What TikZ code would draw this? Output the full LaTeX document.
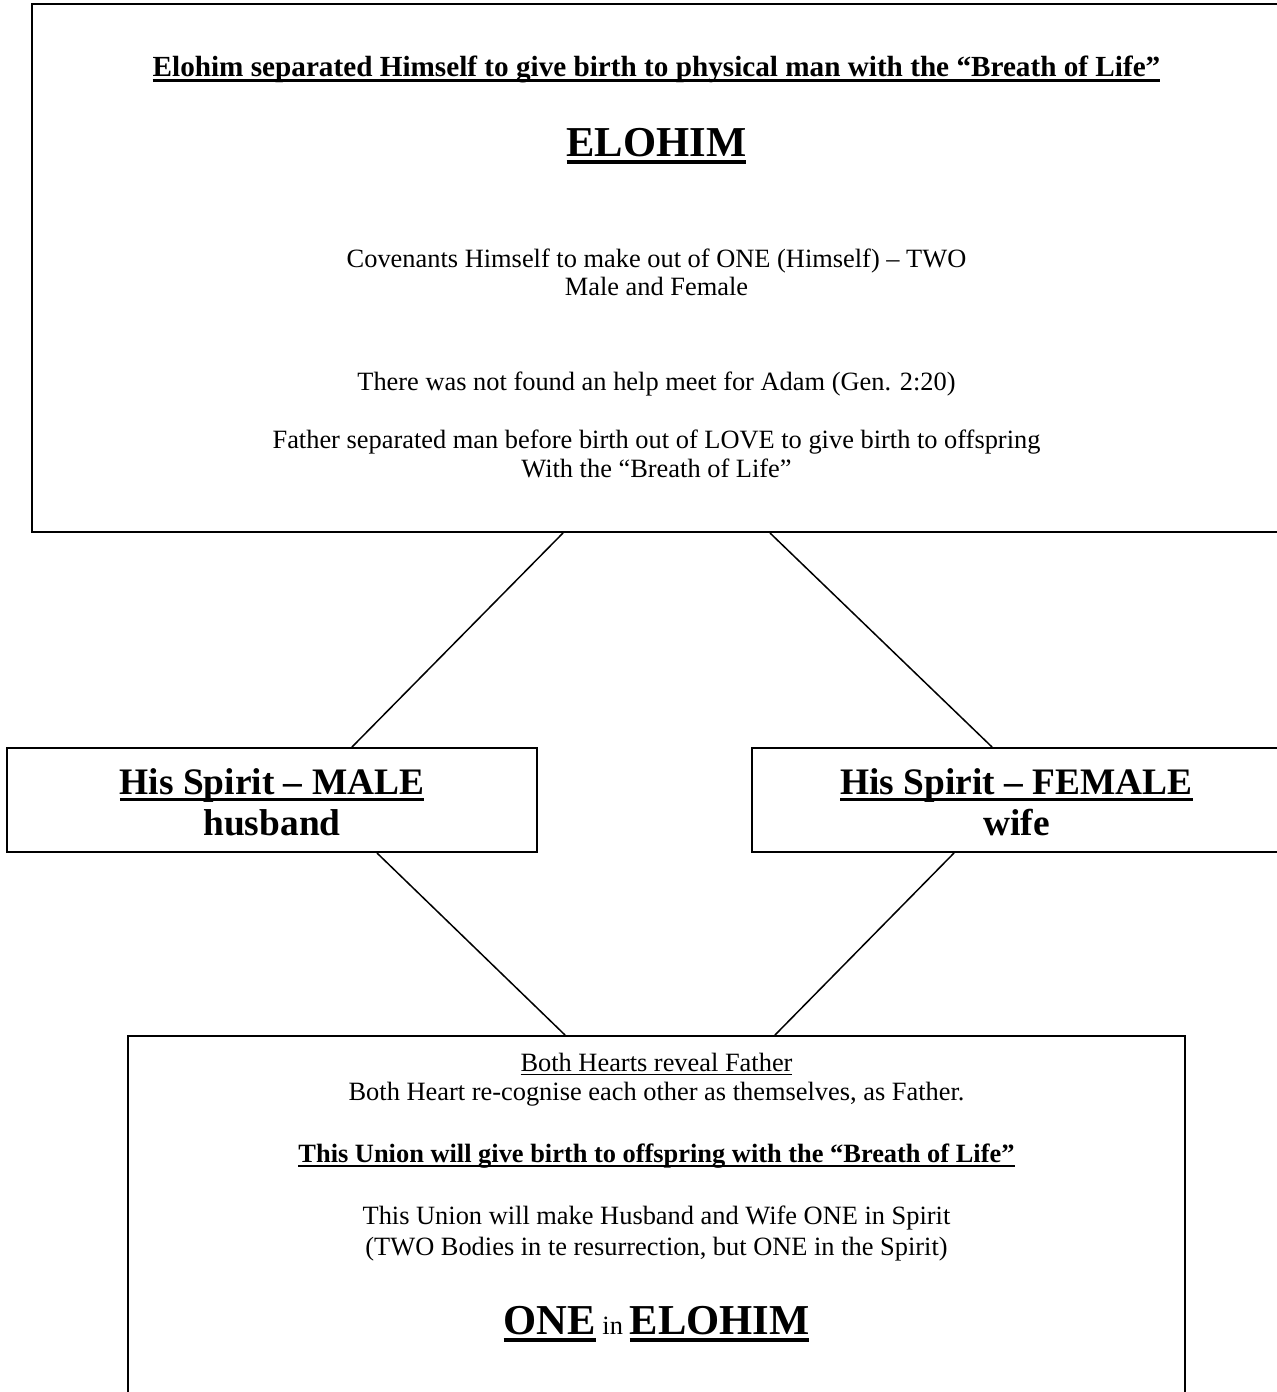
\documentclass[tikz,border=0pt]{standalone}
\usepackage{fontspec}
\setmainfont{Liberation Serif}
\newsavebox{\ulbox}
% underline that cuts through descenders, as a word processor draws it
\newcommand{\ulb}[1]{\sbox{\ulbox}{#1}\rlap{\rule[-0.19em]{\wd\ulbox}{0.09em}}\usebox{\ulbox}}
\newcommand{\uln}[1]{\sbox{\ulbox}{#1}\rlap{\rule[-0.16em]{\wd\ulbox}{0.06em}}\usebox{\ulbox}}
\tikzstyle{frame} = [rectangle, draw=black, line width=1pt]
\tikzstyle{link} = [line width=0.75pt]
\tikzstyle{body} = [anchor=base, inner sep=0pt, font=\fontsize{13.2}{15}\selectfont]
\tikzstyle{head} = [anchor=base, inner sep=0pt, font=\fontsize{14.6}{16}\selectfont\bfseries]
\tikzstyle{spirit} = [anchor=base, inner sep=0pt, font=\fontsize{18.7}{21}\selectfont\bfseries]
\tikzstyle{title} = [anchor=base, inner sep=0pt, font=\fontsize{21.3}{24}\selectfont\bfseries]

\begin{document}
\begin{tikzpicture}[x=0.5pt, y=-0.5pt]
            \useasboundingbox (0,0) rectangle (1276,1392);
            % boxes
            \node[frame, minimum width=634pt, minimum height=264pt] (elohim) at (666,268) {};
            \node[frame, minimum width=265pt, minimum height=52pt] (male) at (272,800) {};
            \node[frame, minimum width=274pt, minimum height=52pt] (female) at (1026,800) {};
            \node[frame, minimum width=528.5pt, minimum height=192pt] (union) at (656.5,1228) {};
            % top box text
            \node[head] (sep) at (656.5,76) {\ulb{Elohim separated Himself to give birth to physical man with the “Breath of Life”}};
            \node[title] (name) at (656.5,156) {\ulb{ELOHIM}};
            \node[body] (cov1) at (656.5,267) {Covenants Himself to make out of ONE (Himself) – TWO};
            \node[body] (cov2) at (656.5,295) {Male and Female};
            \node[body] (help) at (656.5,390) {There was not found an help meet for Adam (Gen. 2:20)};
            \node[body] (love1) at (656.5,448) {Father separated man before birth out of LOVE to give birth to offspring};
            \node[body] (love2) at (656.5,477) {With the “Breath of Life”};
            % middle boxes text
            \node[spirit] (m1) at (272,794) {\ulb{His Spirit – MALE}};
            \node[spirit] (m2) at (272,835) {husband};
            \node[spirit] (f1) at (1016.5,794) {\ulb{His Spirit – FEMALE}};
            \node[spirit] (f2) at (1016.5,835) {wife};
            % bottom box text
            \node[body] (heart1) at (656.5,1071) {\uln{Both Hearts reveal Father}};
            \node[body] (heart2) at (656.5,1100) {Both Heart re-cognise each other as themselves, as Father.};
            \node[body, font=\fontsize{13.2}{15}\selectfont\bfseries] (birth) at (656.5,1162) {\ulb{This Union will give birth to offspring with the “Breath of Life”}};
            \node[body] (one1) at (656.5,1224) {This Union will make Husband and Wife ONE in Spirit};
            \node[body] (one2) at (656.5,1255) {(TWO Bodies in te resurrection, but ONE in the Spirit)};
            \node[title] (oneinel) at (656.5,1334) {\ulb{ONE}{\fontsize{13.2}{15}\selectfont\mdseries\ in\ }\ulb{ELOHIM}};
            % connectors
            \draw[link] ([xshift=-51.5pt]elohim.south) -- ([xshift=40pt]male.north);
            \draw[link] ([xshift=52pt]elohim.south) -- ([xshift=-17pt]female.north);
            \draw[link] ([xshift=52.5pt]male.south) -- ([xshift=-45.75pt]union.north);
            \draw[link] ([xshift=-36pt]female.south) -- ([xshift=59.25pt]union.north);
        \end{tikzpicture}
\end{document}
